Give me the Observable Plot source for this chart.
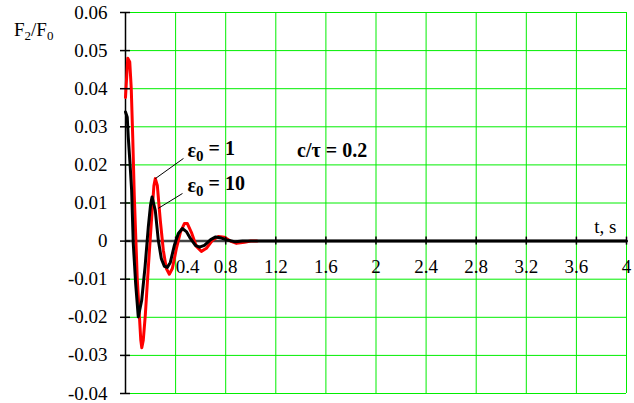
<!DOCTYPE html>
<html><head><meta charset="utf-8">
<script src="https://cdn.jsdelivr.net/npm/d3@7"></script>
<script src="https://cdn.jsdelivr.net/npm/@observablehq/plot@0.6"></script>
<style>
html,body{margin:0;padding:0;background:#fff;}
#wrap{position:relative;width:634px;height:403px;font-family:"Liberation Serif",serif;}
#ylab{position:absolute;left:14px;top:20px;font-size:19px;line-height:19px;font-family:"Liberation Serif",serif;}
#ylab sub{font-size:13px;vertical-align:-4px;line-height:0;}
svg text{font-family:"Liberation Serif",serif !important;}
</style></head>
<body><div id="wrap"><div id="ylab">F<sub>2</sub>/F<sub>0</sub></div></div>
<script>
// ε0 = 1 (red)
const redT = [0.0,0.018,0.034,0.046,0.058,0.07,0.082,0.094,0.108,0.122,0.13,0.142,0.158,0.182,0.209,0.227,0.238,0.254,0.278,0.302,0.326,0.35,0.374,0.406,0.438,0.47,0.494,0.526,0.566,0.606,0.646,0.694,0.742,0.79,0.838,0.886,0.95,1.0,1.05];
const redV = [0.0377,0.048,0.047,0.040,0.027,0.012,0.001,-0.010,-0.018,-0.026,-0.028,-0.026,-0.0195,-0.007,0.0062,0.0146,0.0164,0.0146,0.0054,-0.0024,-0.0072,-0.0087,-0.0072,-0.002,0.0023,0.0046,0.0046,0.0023,-0.0014,-0.0027,-0.0019,0.0002,0.0012,0.001,0.0,-0.0006,-0.0003,0.0,0.0];
// ε0 = 10 (black)
const blackT = [0.0,0.014,0.022,0.036,0.049,0.062,0.081,0.102,0.129,0.156,0.182,0.2,0.212,0.238,0.262,0.286,0.31,0.334,0.358,0.39,0.422,0.454,0.486,0.518,0.558,0.59,0.63,0.68,0.72,0.766,0.82,0.878,0.934,1.0,4.0];
const blackV = [0.0339,0.0325,0.0273,0.0204,0.0133,-0.0006,-0.0111,-0.0199,-0.0156,-0.0068,0.0037,0.0095,0.0116,0.008,0.0002,-0.0046,-0.0066,-0.0069,-0.0056,-0.0011,0.002,0.0033,0.0025,0.0007,-0.0011,-0.0016,-0.0011,0.0004,0.0011,0.0008,0.0002,-0.0002,0,0,0];

const xTicks = [0.4,0.8,1.2,1.6,2,2.4,2.8,3.2,3.6,4];
const xGrid = [0,0.4,0.8,1.2,1.6,2,2.4,2.8,3.2,3.6,4];
const yTicks = [0.06,0.05,0.04,0.03,0.02,0.01,0,-0.01,-0.02,-0.03,-0.04];

const labels = [
  {t:0.495, v:0.0238, text:"ε0 = 1"},
  {t:0.495, v:0.0146, text:"ε0 = 10"},
  {t:1.37, v:0.0238, text:"c/τ = 0.2"}
];
const leaders = [
  {t1:0.463, v1:0.0217, t2:0.238, v2:0.0164},
  {t1:0.455, v1:0.0125, t2:0.262, v2:0.0086}
];
const xTitle = [{t:3.92, v:0.0036, text:"t, s"}];

const red = redT.map((t,i)=>({t, v:redV[i]}));
const black = blackT.map((t,i)=>({t, v:blackV[i]}));

const serif = "Liberation Serif, serif";
const chart = Plot.plot({
  width:634, height:403,
  marginLeft:125, marginRight:8, marginTop:12, marginBottom:10,
  x:{domain:[0,4], axis:null},
  y:{domain:[-0.04,0.06], axis:null},
  style:{fontFamily:serif, fontSize:"19px", background:"#fff"},
  marks:[
    Plot.gridX(xGrid, {stroke:"#00ee00", strokeOpacity:1, strokeWidth:1}),
    Plot.gridY(yTicks, {stroke:"#00ee00", strokeOpacity:1, strokeWidth:1}),
    Plot.ruleY([0], {stroke:"#444", strokeWidth:2.5}),
    Plot.ruleX([0], {stroke:"#000", strokeWidth:1.5}),
    Plot.line(red, {x:"t", y:"v", stroke:"#ff0000", strokeWidth:3}),
    Plot.line(black, {x:"t", y:"v", stroke:"#000", strokeWidth:3}),
    Plot.ruleX(xTicks, {x:d=>d, y1:0, y2:0, insetTop:-4, insetBottom:-4, stroke:"#000", strokeWidth:1.5}),
    Plot.ruleY(yTicks, {y:d=>d, x1:0, x2:0, insetLeft:-5, insetRight:-5, stroke:"#000", strokeWidth:1.5}),
    Plot.text(yTicks, {x:0, y:d=>d, text:d=>String(d), textAnchor:"end", dx:-18, fill:"#000", fontSize:19}),
    Plot.text(xTicks.slice(0,1), {x:d=>d, y:0, text:d=>String(d), dy:26, dx:12, fill:"#000", fontSize:19}),
    Plot.text(xTicks.slice(1), {x:d=>d, y:0, text:d=>String(d), dy:26, fill:"#000", fontSize:19}),
    Plot.text(xTitle, {x:"t", y:"v", text:"text", textAnchor:"end", fill:"#000", fontSize:19}),
    Plot.link(leaders, {x1:"t1", y1:"v1", x2:"t2", y2:"v2", stroke:"#000", strokeWidth:1}),
    Plot.text(labels, {x:"t", y:"v", text:"text", textAnchor:"start", fontWeight:"bold", fill:"#000", fontSize:20})
  ]
});
document.getElementById("wrap").appendChild(chart);
d3.select(chart).attr("font-family", serif).selectAll("text").attr("font-family", serif).style("font-family", serif);
// subscript zero in ε0 labels
d3.select(chart).selectAll("text").each(function(){
  const el = d3.select(this);
  const s = el.text();
  if (s.startsWith("ε0")) {
    el.text("");
    el.append("tspan").text("ε");
    el.append("tspan").attr("dy","0.3em").attr("font-size","15px").text("0");
    el.append("tspan").attr("dy","-0.3em").text(s.slice(2));
  }
});
</script>
</body></html>
